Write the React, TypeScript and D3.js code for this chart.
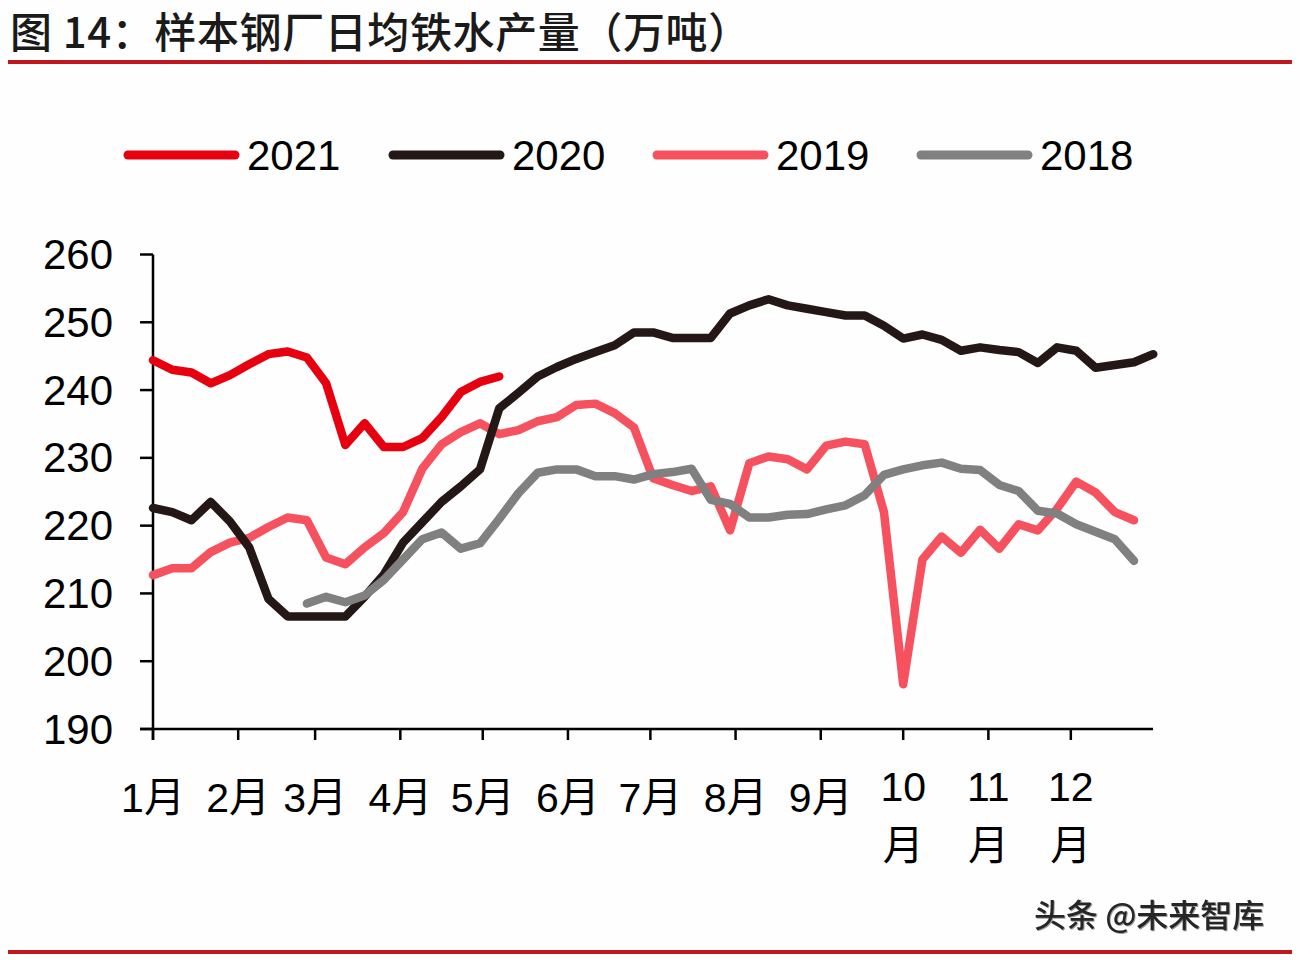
import React from "react";
import * as d3 from "d3";

// Weekly average hot-metal output of sample steel mills (10k tonnes)
const yearLabels = ["2021", "2020", "2019", "2018"];

const values2021 = [
  244.4, 243.0, 242.6, 241.0, 242.2, 243.8, 245.3, 245.7, 244.8, 241.0,
  231.9, 235.1, 231.6, 231.6, 232.9, 236.0, 239.7, 241.2, 242.0,
];

const values2020 = [
  222.6, 222.0, 220.8, 223.5, 220.6, 216.8, 209.2, 206.6, 206.6, 206.6,
  206.6, 209.5, 212.8, 217.5, 220.5, 223.5, 225.8, 228.3, 237.3, 239.6,
  242.0, 243.4, 244.6, 245.6, 246.6, 248.5, 248.5, 247.7, 247.7, 247.7,
  251.3, 252.5, 253.4, 252.5, 252.0, 251.5, 251.0, 251.0, 249.5, 247.6,
  248.2, 247.4, 245.8, 246.3, 245.9, 245.6, 244.0, 246.3, 245.8, 243.3,
  243.7, 244.1, 245.3,
];

const values2019 = [
  212.7, 213.7, 213.7, 216.1, 217.5, 218.2, 219.8, 221.2, 220.8, 215.3,
  214.3, 216.8, 218.9, 222.0, 228.4, 232.0, 233.8, 235.1, 233.5, 234.1,
  235.4, 236.0, 237.8, 238.0, 236.6, 234.5, 227.0, 226.0, 225.1, 225.8,
  219.3, 229.2, 230.2, 229.8, 228.3, 231.8, 232.4, 232.0, 222.0, 196.6,
  215.0, 218.4, 216.0, 219.4, 216.6, 220.2, 219.3, 222.5, 226.5, 224.9,
  222.0, 220.8,
];

// 2018 series begins in week 8
const start2018 = 8;
const values2018 = [
  208.5, 209.5, 208.7, 209.7, 212.0, 215.0, 218.0, 219.0, 216.6, 217.4,
  221.0, 224.8, 227.8, 228.3, 228.3, 227.3, 227.3, 226.8, 227.6, 227.9,
  228.4, 223.8, 223.2, 221.2, 221.2, 221.6, 221.7, 222.4, 223.0, 224.5,
  227.5, 228.3, 228.9, 229.3, 228.4, 228.2, 226.0, 225.1, 222.2, 221.8,
  220.2, 219.1, 218.0, 214.8,
];

// Day of year on which each month starts, and its label
const monthStartDays = [0, 31, 59, 90, 120, 151, 181, 212, 243, 273, 304, 334];
const monthLabels = ["1", "2", "3", "4", "5", "6", "7", "8", "9", "10", "11", "12"];

const yTicks = [190, 200, 210, 220, 230, 240, 250, 260];

const COLORS: Record<string, string> = {
  "2021": "#E60010",
  "2020": "#231815",
  "2019": "#F6515F",
  "2018": "#808080",
};

type Pt = { day: number; v: number };
const toPoints = (vals: number[], startWeek = 0): Pt[] =>
  vals.map((v, i) => ({ day: (startWeek + i) * 7, v }));

const seriesData: Record<string, Pt[]> = {
  "2021": toPoints(values2021),
  "2020": toPoints(values2020),
  "2019": toPoints(values2019),
  "2018": toPoints(values2018, start2018),
};

const drawOrder = ["2019", "2020", "2018", "2021"];

const W = 1300;
const H = 960;
const plotLeft = 153;
const plotRight = 1156;
const axisEnd = 1153;
const plotTop = 254.5;
const plotBottom = 729;

const FONT = "'Liberation Sans', Arial, 'Noto Sans CJK SC', sans-serif";
const CJK = "'Noto Sans CJK SC', 'Liberation Sans', sans-serif";

export default function App() {
  const x = d3.scaleLinear().domain([0, 365]).range([plotLeft, plotRight]);
  const y = d3.scaleLinear().domain([190, 260]).range([plotBottom, plotTop]);

  const line = d3
    .line<Pt>()
    .x((d) => x(d.day))
    .y((d) => y(d.v));

  const legendX = [128, 393, 657, 921];

  return (
    <svg
      width={W}
      height={H}
      viewBox={`0 0 ${W} ${H}`}
      style={{ position: "absolute", left: 0, top: 0, background: "#FEFEFE", display: "block" }}
    >
      <rect x={0} y={0} width={W} height={H} fill="#FEFEFE" />

      {/* Title */}
      <text
        x={10}
        y={48}
        fontFamily={CJK}
        fontSize={42}
        fontWeight={500}
        letterSpacing={0.6}
        fill="#1A1A1A"
      >
        图 14：样本钢厂日均铁水产量（万吨）
      </text>
      <line x1={8} x2={1292} y1={62} y2={62} stroke="#C2161D" strokeWidth={4} />

      {/* Legend */}
      {yearLabels.map((yr, i) => (
        <g key={yr}>
          <line
            x1={legendX[i]}
            x2={legendX[i] + 107}
            y1={155}
            y2={155}
            stroke={COLORS[yr]}
            strokeWidth={9}
            strokeLinecap="round"
          />
          <text x={legendX[i] + 119} y={170} fontFamily={FONT} fontSize={42} fill="#000">
            {yr}
          </text>
        </g>
      ))}

      {/* Y axis */}
      <line x1={plotLeft} x2={plotLeft} y1={plotTop} y2={plotBottom + 11} stroke="#000" strokeWidth={2.5} />
      {yTicks.map((t) => (
        <g key={t}>
          <line x1={plotLeft - 13} x2={plotLeft} y1={y(t)} y2={y(t)} stroke="#000" strokeWidth={2.5} />
          <text
            x={113}
            y={y(t) + 14.5}
            textAnchor="end"
            fontFamily={FONT}
            fontSize={42}
            fill="#000"
          >
            {t}
          </text>
        </g>
      ))}

      {/* X axis */}
      <line x1={plotLeft - 13} x2={axisEnd} y1={plotBottom} y2={plotBottom} stroke="#000" strokeWidth={2.5} />
      {monthStartDays.map((d, i) => {
        const px = x(d);
        const label = monthLabels[i];
        const twoLine = label.length > 1;
        return (
          <g key={d}>
            <line x1={px} x2={px} y1={plotBottom} y2={plotBottom + 11} stroke="#000" strokeWidth={2.5} />
            {twoLine ? (
              <>
                <text x={px} y={801} textAnchor="middle" fontFamily={FONT} fontSize={41} fill="#000">
                  {label}
                </text>
                <text x={px} y={860} textAnchor="middle" fontFamily={CJK} fontSize={41} fill="#000">
                  月
                </text>
              </>
            ) : (
              <text x={px} y={812} textAnchor="middle" fontFamily={FONT} fontSize={41} fill="#000">
                {label}
                <tspan fontFamily={CJK}>月</tspan>
              </text>
            )}
          </g>
        );
      })}

      {/* Series */}
      {drawOrder.map((yr) => (
        <path
          key={yr}
          d={line(seriesData[yr]) || ""}
          fill="none"
          stroke={COLORS[yr]}
          strokeWidth={8.5}
          strokeLinejoin="round"
          strokeLinecap="round"
        />
      ))}

      {/* Footer */}
      <text
        x={1034}
        y={927}
        fontFamily={CJK}
        fontSize={32}
        fontWeight={500}
        fill="#262626"
        style={{ filter: "drop-shadow(1px 1px 0px #A0A0A0)" }}
      >
        头条 @未来智库
      </text>
      <line x1={8} x2={1292} y1={952} y2={952} stroke="#C2161D" strokeWidth={4} />
    </svg>
  );
}
